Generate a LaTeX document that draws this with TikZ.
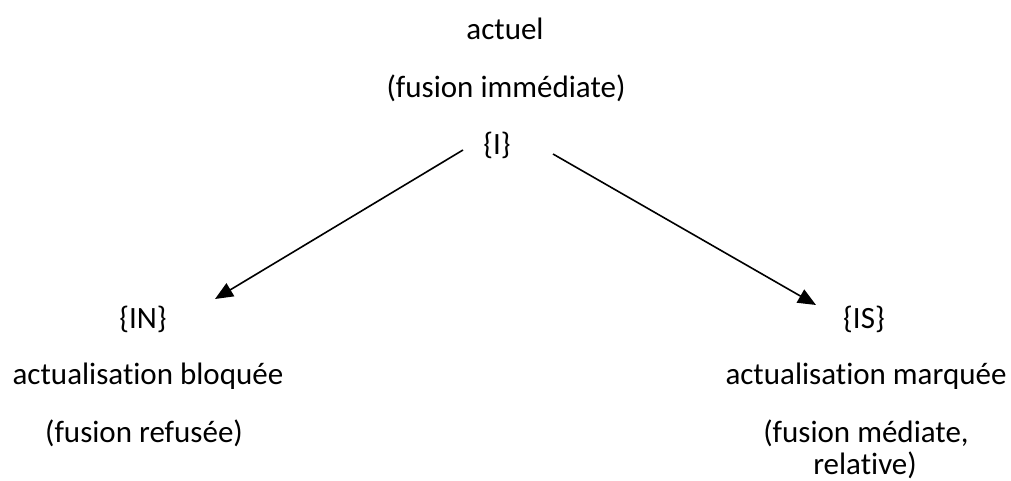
\documentclass[tikz,border=0pt]{standalone}
\usepackage{fontspec}
\setmainfont[Ligatures=NoCommon]{Carlito}
\usetikzlibrary{arrows.meta}
\begin{document}
\begin{tikzpicture}[x=1pt,y=-1pt,
  lbl/.style={inner sep=0pt,font=\fontsize{31}{37}\selectfont,anchor=base},
  arr/.style={line width=1.6pt,-{Triangle[length=18pt,width=15pt]}}]
\useasboundingbox (0,0) rectangle (1011,481);
\node[lbl] (actuel) at (505,40) {actuel};
\node[lbl] (fim) at (506,98) {(fusion immédiate)};
\node[lbl] (I) at (497,155) {\{I\}};
\node[lbl] (IN) at (143,328) {\{IN\}};
\node[lbl] (ab) at (148,384) {actualisation bloquée};
\node[lbl] (fr) at (144,442) {(fusion refusée)};
\node[lbl] (IS) at (864,328) {\{IS\}};
\node[lbl] (am) at (866,384) {actualisation marquée};
\node[lbl] (fm) at (866,442) {(fusion médiate,};
\node[lbl] (rel) at (865,474) {relative)};
\coordinate (s1) at (463,150);
\coordinate (t1) at (215,299);
\coordinate (s2) at (553,154);
\coordinate (t2) at (816,305);
\draw[arr] (s1) -- (t1);
\draw[arr] (s2) -- (t2);
\end{tikzpicture}
\end{document}
